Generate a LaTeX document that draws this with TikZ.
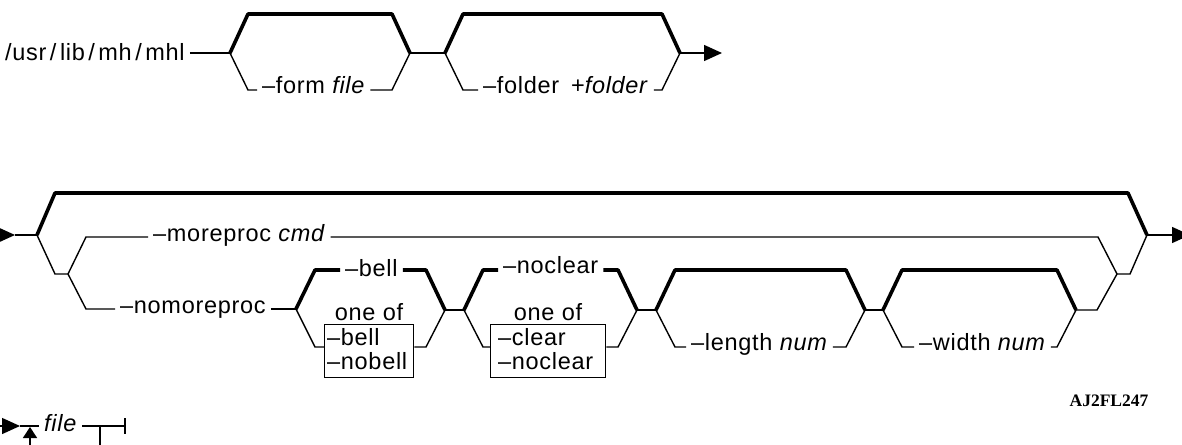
\documentclass[tikz,border=0pt]{standalone}
\usepackage{fontspec}
\setmainfont{Liberation Sans}[LetterSpace=3]
\newfontfamily\serifb{Liberation Serif}
\usetikzlibrary{arrows.meta}
\newcommand{\slsh}{\kern3.5pt/\kern3.5pt}
\begin{document}
\begin{tikzpicture}[x=1pt,y=-1pt,
  thk/.style={line width=3.6pt,line join=round},
  thn/.style={line width=1.4pt},
  lbl/.style={inner xsep=5pt,inner ysep=0pt,anchor=base west,font=\fontsize{23.5}{27}\selectfont},
  boxn/.style={draw,line width=1.3pt,inner sep=0pt,anchor=north west},
  tipb/.style={-{Triangle[length=18pt,width=16pt]}}]
\useasboundingbox (0,0) rectangle (1182,444);
\clip (0,0) rectangle (1182,444);
% level coordinates
\coordinate (Y1lo) at (0,90);
\coordinate (Y2mp) at (0,237);
\coordinate (Y2gt) at (0,270);
\coordinate (Y2gl) at (0,347);
\coordinate (Y3) at (0,426);
% ---------------- row 1
\node[lbl] (mhl) at (0,60) {/usr\slsh lib\slsh mh\slsh mhl};
\coordinate (b1) at (230,53);
\coordinate (m1) at (410,53);
\coordinate (b2) at (445,53);
\coordinate (e1) at (680,53);
\coordinate (a1) at (722,53);
\draw[thn] (mhl.east |- b1) -- (b1);
\draw[thk] (b1) -- (248,14) -- (392,14) -- (m1);
\node[lbl] (form) at (257,93) {–form \textit{file}};
\draw[thn] (b1) -- (248,90) -- (form.west |- Y1lo);
\draw[thn] (form.east |- Y1lo) -- (392,90) -- (m1);
\draw[thn] (m1) -- (b2);
\draw[thk] (b2) -- (463,14) -- (662,14) -- (e1);
\node[lbl] (folder) at (478,93) {–folder\hspace{0.5em}+\textit{folder}};
\draw[thn] (b2) -- (463,90) -- (folder.west |- Y1lo);
\draw[thn] (folder.east |- Y1lo) -- (662,90) -- (e1);
\draw[thn,tipb] (e1) -- (a1);
% ---------------- row 2
\coordinate (in2) at (15,235);
\coordinate (B) at (37,235);
\coordinate (E) at (1147,235);
\coordinate (C) at (68,274);
\coordinate (D) at (1117,274);
\coordinate (out2) at (1190,235);
\draw[thn,tipb] (-5,235) -- (in2);
\draw[thn] (in2) -- (B);
\draw[thk] (B) -- (55,193) -- (1128,193) -- (E);
\draw[thn] (B) -- (55,274) -- (C);
\draw[thn] (D) -- (1130,274) -- (E);
\draw[thn,tipb] (E) -- (out2);
\node[lbl] (more) at (148,241) {–moreproc \textit{cmd}};
\draw[thn] (C) -- (86,237) -- (more.west |- Y2mp);
\draw[thn] (more.east |- Y2mp) -- (1098,237) -- (D);
\coordinate (G1) at (296,309);
\node[lbl] (nomore) at (115,313) {–nomoreproc};
\draw[thn] (C) -- (86,309) -- (nomore.west |- G1);
\draw[thn] (nomore.east |- G1) -- (G1);
% bell group
\coordinate (G2) at (445,310);
\node[lbl] (bellt) at (340,276) {–bell};
\draw[thk] (G1) -- (315,270) -- (bellt.west |- Y2gt);
\draw[thk] (bellt.east |- Y2gt) -- (426,270) -- (G2);
\node[lbl,anchor=base] (oneof1) at (369,320) {one of};
\node[boxn,minimum width=89pt,minimum height=53pt] (bbox) at (324,324) {};
\node[lbl] (bell2) at (322,345) {–bell};
\node[lbl] (nobell) at (322,369) {–nobell};
\draw[thn] (G1) -- (315,347) -- (bbox.west |- Y2gl);
\draw[thn] (bbox.east |- Y2gl) -- (426,347) -- (G2);
% noclear group
\coordinate (G3) at (464,310);
\coordinate (G4) at (637,310);
\draw[thn] (G2) -- (G3);
\node[lbl] (noclr) at (498,273) {–noclear};
\draw[thk] (G3) -- (483,270) -- (noclr.west |- Y2gt);
\draw[thk] (noclr.east |- Y2gt) -- (618,270) -- (G4);
\node[lbl,anchor=base] (oneof2) at (548,320) {one of};
\node[boxn,minimum width=115pt,minimum height=53pt] (cbox) at (490,324) {};
\node[lbl] (clear) at (493,345) {–clear};
\node[lbl] (noclr2) at (493,369) {–noclear};
\draw[thn] (G3) -- (483,347) -- (cbox.west |- Y2gl);
\draw[thn] (cbox.east |- Y2gl) -- (618,347) -- (G4);
% length group
\coordinate (G5) at (656,310);
\coordinate (G6) at (865,310);
\draw[thn] (G4) -- (G5);
\draw[thk] (G5) -- (675,270) -- (846,270) -- (G6);
\node[lbl] (len) at (686,350) {–length \textit{num}};
\draw[thn] (G5) -- (675,347) -- (len.west |- Y2gl);
\draw[thn] (len.east |- Y2gl) -- (846,347) -- (G6);
% width group
\coordinate (G7) at (883,310);
\coordinate (G8) at (1076,310);
\draw[thn] (G6) -- (G7);
\draw[thk] (G7) -- (902,270) -- (1057,270) -- (G8);
\node[lbl] (wid) at (914,350) {–width \textit{num}};
\draw[thn] (G7) -- (902,347) -- (wid.west |- Y2gl);
\draw[thn] (wid.east |- Y2gl) -- (1057,347) -- (G8);
\draw[thn] (G8) -- (1097,310) -- (D);
% ---------------- row 3
\coordinate (in3) at (20,426);
\coordinate (up3) at (30,427);
\coordinate (st3) at (100,426);
\coordinate (end3) at (125,426);
\draw[thn,tipb] (-5,426) -- (in3);
\draw[thn,-{Triangle[length=11pt,width=14pt]}] (30,446) -- (up3);
\node[lbl] (file) at (39,431) {\textit{file}};
\draw[thn] (in3) -- (file.west |- Y3);
\draw[thn] (file.east |- Y3) -- (end3);
\draw[thn] (125,418) -- (125,434);
\draw[thn] (st3) -- (100,446);
% figure id
\node[font=\fontsize{17.5}{20}\selectfont\serifb\bfseries,anchor=base,inner sep=0pt] (figid) at (1109,406) {AJ2FL247};
\end{tikzpicture}
\end{document}
